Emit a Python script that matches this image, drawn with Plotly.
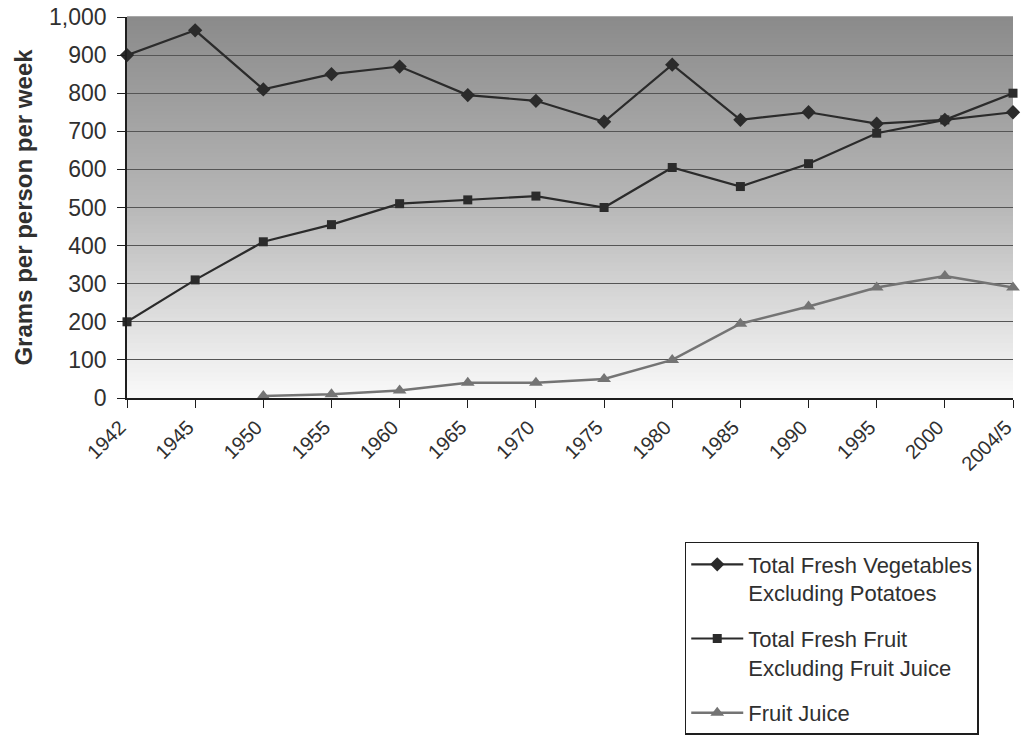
import plotly.graph_objects as go

# Weekly household purchases, grams per person per week
years = ["1942", "1945", "1950", "1955", "1960", "1965", "1970",
         "1975", "1980", "1985", "1990", "1995", "2000", "2004/5"]
vegetables = [900, 965, 810, 850, 870, 795, 780, 725, 875, 730, 750, 720, 730, 750]
fresh_fruit = [200, 310, 410, 455, 510, 520, 530, 500, 605, 555, 615, 695, 730, 800]
fruit_juice = [None, None, 5, 10, 20, 40, 40, 50, 100, 195, 240, 290, 320, 290]

y_ticks = list(range(0, 1001, 100))

FONT = "Liberation Sans, Arial, sans-serif"
TEXT = "#303030"

fig = go.Figure()

fig.add_trace(go.Scatter(
    x=years, y=vegetables, mode="lines+markers",
    name="Total Fresh Vegetables<br>Excluding Potatoes",
    legendgroup="veg",
    line=dict(color="#2b2b2b", width=2.2),
    marker=dict(symbol="diamond", size=11, color="#2b2b2b"),
    cliponaxis=False,
))
fig.add_trace(go.Scatter(
    x=years, y=fresh_fruit, mode="lines+markers",
    name="Total Fresh Fruit<br>Excluding Fruit Juice",
    legendgroup="fruit",
    line=dict(color="#2b2b2b", width=2.2),
    marker=dict(symbol="square", size=9, color="#2b2b2b"),
    cliponaxis=False,
))
fig.add_trace(go.Scatter(
    x=years, y=fruit_juice, mode="lines+markers",
    name="Fruit Juice",
    legendgroup="juice",
    line=dict(color="#747474", width=2.5),
    marker=dict(symbol="triangle-up", size=12, color="#747474"),
    cliponaxis=False,
))

# Vertical grey-to-white gradient behind the plot area, built from thin bands
n_bands = 90
top_grey, mid_grey, bottom_grey = 138, 184, 250
shapes = []
for i in range(n_bands):
    t = (i + 0.5) / n_bands  # 0 at bottom, 1 at top
    if t < 0.5:
        g = bottom_grey + (mid_grey - bottom_grey) * (t / 0.5)
    else:
        g = mid_grey + (top_grey - mid_grey) * ((t - 0.5) / 0.5)
    g = int(round(g))
    shapes.append(dict(
        type="rect", xref="x domain", yref="y domain",
        x0=0, x1=1, y0=i / n_bands, y1=(i + 1) / n_bands + 0.002,
        fillcolor=f"rgb({g},{g},{g})", line=dict(width=0), layer="below",
    ))

fig.update_layout(
    width=1022, height=737,
    margin=dict(l=127, r=9, t=17, b=339, autoexpand=False),
    paper_bgcolor="white",
    plot_bgcolor="white",
    shapes=shapes,
    font=dict(family=FONT, color=TEXT),
    showlegend=True,
    legend=dict(
        xref="container", yref="container",
        x=0.670, y=0.2646, xanchor="left", yanchor="top",
        bgcolor="white", bordercolor="#1e1e1e", borderwidth=1.5,
        font=dict(family=FONT, size=22, color=TEXT),
        itemwidth=52, valign="top", tracegroupgap=14,
    ),
    xaxis=dict(
        type="category", range=[0, len(years) - 1],
        showgrid=False, showline=True, linecolor="#1e1e1e", linewidth=1.6,
        ticks="outside", ticklen=8, tickcolor="#1e1e1e", tickwidth=1.2,
        ticklabelshift=-7,
        tickangle=-45, tickfont=dict(family=FONT, size=20, color=TEXT),
    ),
    yaxis=dict(
        range=[0, 1000], tickvals=y_ticks, tickformat=",d",
        showgrid=True, gridcolor="#555555", gridwidth=1,
        showline=True, linecolor="#1e1e1e", linewidth=1.6,
        ticks="outside", ticklen=8, tickcolor="#1e1e1e", tickwidth=1.2,
        ticklabelstandoff=6,
        tickfont=dict(family=FONT, size=23, color=TEXT),
        zeroline=False,
        title=dict(text="<b>Grams per person per week</b>",
                   font=dict(family=FONT, size=24, color=TEXT), standoff=10),
    ),
)

fig.write_html("out.html")
